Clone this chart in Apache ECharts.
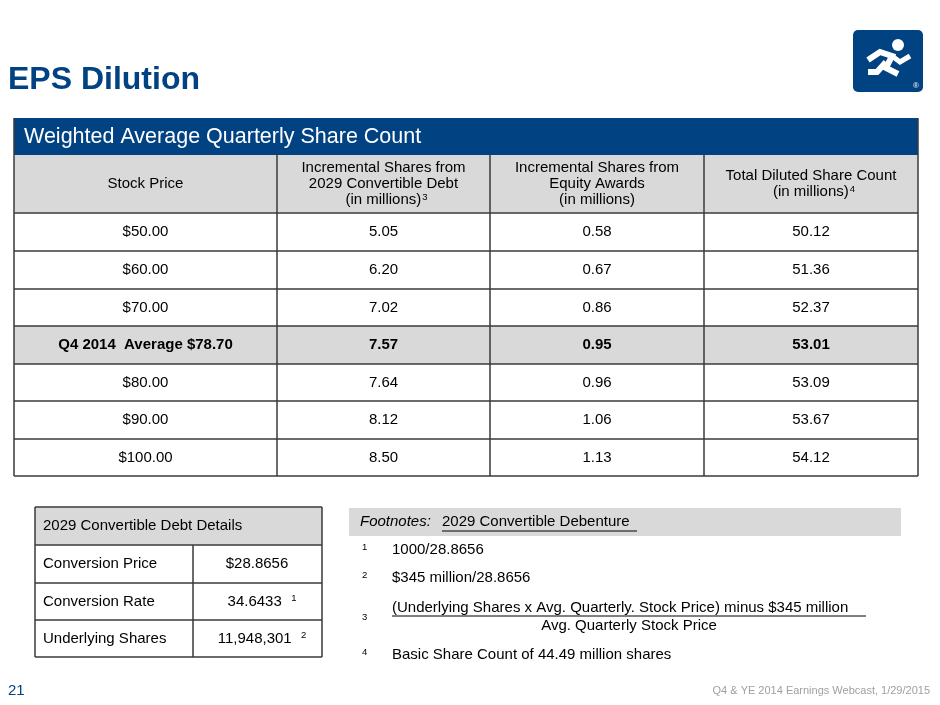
<!DOCTYPE html>
<html><head><meta charset="utf-8">
<script src="https://cdn.jsdelivr.net/npm/echarts@6/dist/echarts.min.js"></script>
<style>html,body{margin:0;padding:0;background:#fff}#c{width:940px;height:705px}</style>
</head><body><div id="c"></div>
<script>
const title = "EPS Dilution";
const tableTitle = "Weighted Average Quarterly Share Count";
const headers = ["Stock Price", "Incremental Shares from\n2029 Convertible Debt\n(in millions)", "Incremental Shares from\nEquity Awards\n(in millions)", "Total Diluted Share Count\n(in millions)"];
const headerSups = ["","3","","4"];
const stockPrices = ["$50.00","$60.00","$70.00","Q4 2014  Average $78.70","$80.00","$90.00","$100.00"];
const convShares = ["5.05","6.20","7.02","7.57","7.64","8.12","8.50"];
const equityShares = ["0.58","0.67","0.86","0.95","0.96","1.06","1.13"];
const totalShares = ["50.12","51.36","52.37","53.01","53.09","53.67","54.12"];
const highlightRow = 3;
const debtLabels = ["Conversion Price","Conversion Rate","Underlying Shares"];
const debtValues = ["$28.8656","34.6433","11,948,301"];
const debtSups = ["","1","2"];
const footnotes = ["1000/28.8656","$345 million/28.8656","(Underlying Shares x Avg. Quarterly. Stock Price) minus $345 million","Basic Share Count of 44.49 million shares"];

const F = "'Liberation Sans', Arial, sans-serif";
const BLUE = "#004282", LINE = "#3a3a3a", GRAY = "#d9d9d9";
const S = 15;
const g = [];
function fnt(size,weight,style){return (style?style+' ':'')+(weight||'normal')+' '+size+'px '+F;}
function rect(x,y,w,h,fill){g.push({type:'rect',shape:{x,y,width:w,height:h},style:{fill:fill}});}
function line(x1,y1,x2,y2,c,w){g.push({type:'line',shape:{x1,y1,x2,y2},style:{stroke:c||LINE,lineWidth:w||1.5}});}
function text(x,y,t,o){o=o||{};g.push({type:'text',x,y,style:Object.assign({text:t,fill:'#000',font:fnt(o.size||S,o.weight,o.style),textAlign:o.align||'center',textVerticalAlign:'middle',lineHeight:o.lh||16},o.extra||{})});}
const rich={n:{font:fnt(S),lineHeight:16,fill:'#000'},s:{font:fnt(9.5),lineHeight:16,verticalAlign:'top',padding:[0,0,6,1],fill:'#000'}};
function supText(x,y,main,sup,align){g.push({type:'text',x,y,style:{text:'{n|'+main+'}{s|'+sup+'}',rich,textAlign:align||'center',textVerticalAlign:'middle'}});}

text(8,80,title,{align:'left',size:32,weight:'bold',extra:{fill:BLUE}});
g.push({type:'rect',shape:{x:853,y:30,width:70,height:62,r:5},style:{fill:BLUE}});
g.push({type:'polyline',shape:{points:[[868,60],[880,52],[892,56],[886,68],[898,74]]},style:{stroke:'#fff',lineWidth:6,fill:'none'}});
g.push({type:'polyline',shape:{points:[[886,62],[877,72],[868,72]]},style:{stroke:'#fff',lineWidth:6,fill:'none'}});
g.push({type:'polyline',shape:{points:[[892,56],[900,62],[910,56]]},style:{stroke:'#fff',lineWidth:5,fill:'none'}});
g.push({type:'circle',shape:{cx:898,cy:45,r:6},style:{fill:'#fff'}});
text(916,86,"®",{size:8,extra:{fill:'#fff'}});

const cols=[14,277,490,704,918];
rect(14,118,904,37,BLUE);
text(24,137,tableTitle,{align:'left',size:21.5,extra:{fill:'#fff'}});
rect(14,155,904,58,GRAY);
const rowY=[213,251,289,326,364,401,439,476];
rect(14,rowY[highlightRow],904,rowY[highlightRow+1]-rowY[highlightRow],GRAY);
headers.forEach((h,i)=>{
  const cx=(cols[i]+cols[i+1])/2;
  const lines=h.split('\n');
  const y0=184-(lines.length-1)*8;
  lines.forEach((l,k)=>{
    if(k===lines.length-1 && headerSups[i]) supText(cx+3,y0+k*16,l,headerSups[i]);
    else text(cx,y0+k*16,l);
  });
});
const colsData=[stockPrices,convShares,equityShares,totalShares];
for(let r=0;r<stockPrices.length;r++){
  const cy=(rowY[r]+rowY[r+1])/2;
  colsData.forEach((arr,i)=>text((cols[i]+cols[i+1])/2,cy,arr[r],{weight:r===highlightRow?'bold':'normal'}));
}
rowY.forEach(y=>line(14,y,918,y));
cols.forEach((x,i)=>line(x,i===0||i===4?118:155,x,476));

const dy=[507,545,583,620,657];
rect(35,507,287,38,GRAY);
text(43,526,"2029 Convertible Debt Details",{align:'left'});
for(let r=0;r<3;r++){
  const cy=(dy[r+1]+dy[r+2])/2;
  text(43,cy,debtLabels[r],{align:'left'});
  if(debtSups[r]) supText(262,cy,debtValues[r]+'  ',debtSups[r]); else text(257,cy,debtValues[r]);
}
dy.forEach(y=>line(35,y,322,y));
line(35,507,35,657);line(322,507,322,657);line(193,545,193,657);

rect(349,508,552,28,GRAY);
text(360,522,"Footnotes:",{align:'left',style:'italic'});
text(442,522,"2029 Convertible Debenture",{align:'left'});
line(442,531,637,531,'#000',1);
const fy=[550,578,608,655];
["1","2","3","4"].forEach((s,i)=>text(362,i===2?617:fy[i]-3,s,{size:9.5,align:'left'}));
footnotes.forEach((t,i)=>text(392,fy[i],t,{align:'left'}));
line(392,616,866,616,'#000',1);
text(629,626,"Avg. Quarterly Stock Price");

text(8,691,"21",{align:'left',size:15,extra:{fill:BLUE}});
text(930,691,"Q4 & YE 2014 Earnings Webcast, 1/29/2015",{align:'right',size:11,extra:{fill:'#a0a0a0'}});

const chart=echarts.init(document.getElementById('c'));
chart.setOption({graphic:{elements:g}});
</script></body></html>
